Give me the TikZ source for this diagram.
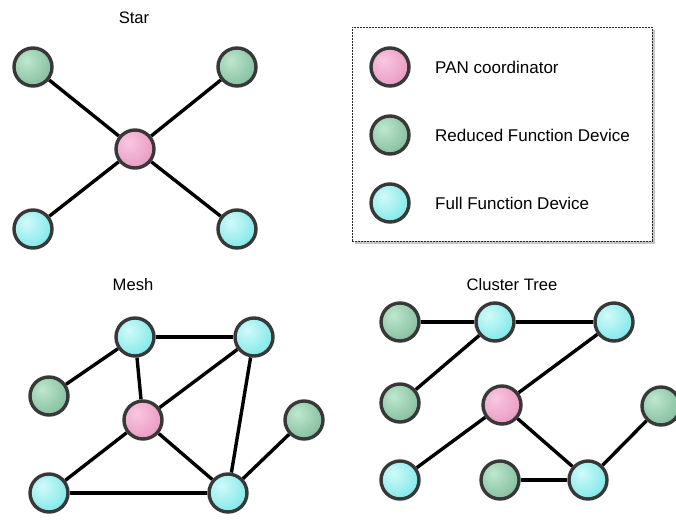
\documentclass[tikz,border=0pt]{standalone}
\usepackage{fontspec}
\setmainfont{Liberation Sans}
\usetikzlibrary{shadows,backgrounds}
\definecolor{pnkL}{HTML}{F8C8E0}
\definecolor{pnkB}{HTML}{E07AB0}
\definecolor{grnL}{HTML}{BEE8CE}
\definecolor{grnB}{HTML}{5FA27E}
\definecolor{cyL}{HTML}{D2FAFA}
\definecolor{cyB}{HTML}{48DCDC}
\pgfdeclareradialshading{pinkball}{\pgfpoint{-9bp}{9bp}}{color(0bp)=(pnkL); color(55bp)=(pnkB); color(100bp)=(pnkB)}
\pgfdeclareradialshading{greenball}{\pgfpoint{-9bp}{9bp}}{color(0bp)=(grnL); color(55bp)=(grnB); color(100bp)=(grnB)}
\pgfdeclareradialshading{cyanball}{\pgfpoint{-9bp}{9bp}}{color(0bp)=(cyL); color(55bp)=(cyB); color(100bp)=(cyB)}
\tikzset{
  dev/.style={circle, minimum size=38pt, inner sep=0pt, draw=black!78, line width=3.4pt,
    drop shadow={opacity=0.18, shadow xshift=0.8pt, shadow yshift=-1.5pt}},
  pan/.style={dev, shading=pinkball},
  rfd/.style={dev, shading=greenball},
  ffd/.style={dev, shading=cyanball},
  link/.style={line width=3.4pt, black},
  ttl/.style={font=\fontsize{16.6}{19}\selectfont, inner sep=0pt},
  lgd/.style={font=\fontsize{17}{20}\selectfont, inner sep=0pt, anchor=west},
}
\begin{document}
\begin{tikzpicture}[x=1pt,y=-1pt]
\useasboundingbox (0,0) rectangle (676,521);
% Legend box
\node[draw=black!85, line width=0.7pt, dash pattern=on 1.6pt off 1.4pt, fill=white,
      minimum width=300pt, minimum height=214pt, inner sep=0pt,
      drop shadow={opacity=0.45, shadow xshift=2.5pt, shadow yshift=-3pt}] (legend) at (502,134) {};
\node[pan] (lp) at (390,67) {};
\node[rfd] (lr) at (390,135) {};
\node[ffd] (lf) at (390,203) {};
\node[lgd] (lpt) at (435,67) {PAN coordinator};
\node[lgd] (lrt) at (435,135) {Reduced Function Device};
\node[lgd] (lft) at (435,203) {Full Function Device};
% Star
\node[ttl] (startitle) at (134,18) {Star};
\node[pan] (sc) at (135,149) {};
\node[rfd] (s1) at (33,67) {};
\node[rfd] (s2) at (237,67) {};
\node[ffd] (s3) at (33,229) {};
\node[ffd] (s4) at (237,229) {};
% Mesh
\node[ttl] (meshtitle) at (133,285) {Mesh};
\node[ffd] (m1) at (135,337) {};
\node[ffd] (m2) at (254,337) {};
\node[rfd] (m3) at (49,396) {};
\node[pan] (mc) at (143,420) {};
\node[rfd] (m4) at (304,420) {};
\node[ffd] (m5) at (49,493) {};
\node[ffd] (m6) at (228,493) {};
% Cluster tree
\node[ttl] (cttitle) at (512,285) {Cluster Tree};
\node[rfd] (c1) at (400,322) {};
\node[ffd] (c2) at (495,322) {};
\node[ffd] (c3) at (614,322) {};
\node[rfd] (c4) at (400,403) {};
\node[pan] (cc) at (502,405) {};
\node[rfd] (c5) at (661,406) {};
\node[ffd] (c6) at (400,480) {};
\node[rfd] (c7) at (500,480) {};
\node[ffd] (c8) at (588,480) {};
\begin{scope}[on background layer]
\draw[link] (sc) -- (s1);
\draw[link] (sc) -- (s2);
\draw[link] (sc) -- (s3);
\draw[link] (sc) -- (s4);
\draw[link] (m1) -- (m2);
\draw[link] (m1) -- (m3);
\draw[link] (m1) -- (mc);
\draw[link] (m2) -- (mc);
\draw[link] (m2) -- (m6);
\draw[link] (mc) -- (m5);
\draw[link] (mc) -- (m6);
\draw[link] (m5) -- (m6);
\draw[link] (m6) -- (m4);
\draw[link] (c1) -- (c2);
\draw[link] (c2) -- (c3);
\draw[link] (c2) -- (c4);
\draw[link] (c3) -- (cc);
\draw[link] (cc) -- (c6);
\draw[link] (cc) -- (c8);
\draw[link] (c7) -- (c8);
\draw[link] (c8) -- (c5);
\end{scope}
\end{tikzpicture}
\end{document}
